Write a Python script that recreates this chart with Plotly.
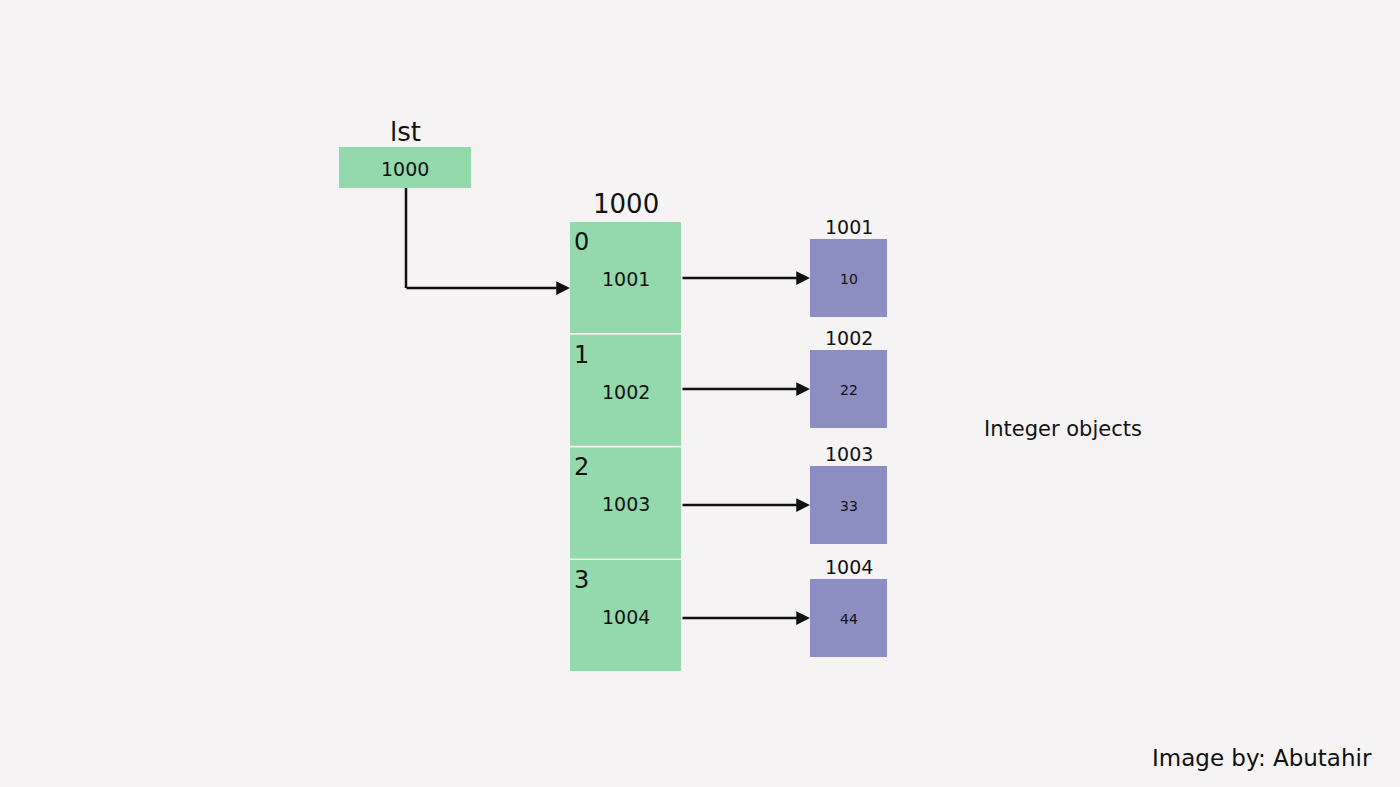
import plotly.graph_objects as go

# --- data ---
var_name = "lst"
var_value = "1000"
list_address = "1000"
cell_index = ["0", "1", "2", "3"]
cell_refs = ["1001", "1002", "1003", "1004"]
int_addresses = ["1001", "1002", "1003", "1004"]
int_values = ["10", "22", "33", "44"]
side_note = "Integer objects"
credit = "Image by: Abutahir"

# --- layout (pixel space, y down) ---
W, H = 1400, 787
BG = "#f5f3f4"
GREEN = "#94d9ab"
PURPLE = "#8c8dc0"
INK = "#111111"
FONT = "DejaVu Sans"

var_box = (339, 471, 147, 188)
cell_x0, cell_x1 = 570, 681
cell_top0, cell_pitch, cell_h = 222, 112.7, 111
int_x0, int_x1 = 810, 887
int_tops = [239, 350, 466, 579]
int_h = 78

fig = go.Figure()
shapes = []
ann = []


def text(x, y, s, size, xanchor="center"):
    ann.append(dict(x=x, y=y, text=s, showarrow=False, xanchor=xanchor,
                    yanchor="middle", font=dict(size=size, color=INK, family=FONT)))


def arrow(x0, y0, x1, y1):
    ann.append(dict(x=x1, y=y1, ax=x0, ay=y0, xref="x", yref="y", axref="x", ayref="y",
                    text="", showarrow=True, arrowhead=2, arrowsize=1.1,
                    arrowwidth=2.5, arrowcolor=INK, standoff=0))


# variable box
x0, x1, y0, y1 = var_box
shapes.append(dict(type="rect", x0=x0, x1=x1, y0=y0, y1=y1, fillcolor=GREEN,
                   line=dict(width=0), layer="below"))
text((x0 + x1) / 2, y0 - 15, var_name, 26)
text((x0 + x1) / 2, (y0 + y1) / 2 + 1, var_value, 19)

# list cells
text((cell_x0 + cell_x1) / 2, cell_top0 - 18, list_address, 26)
for i, (idx, ref) in enumerate(zip(cell_index, cell_refs)):
    top = cell_top0 + i * cell_pitch
    shapes.append(dict(type="rect", x0=cell_x0, x1=cell_x1, y0=top, y1=top + cell_h,
                       fillcolor=GREEN, line=dict(width=0), layer="below"))
    text(cell_x0 + 2, top + 20, idx, 24, xanchor="left")
    text((cell_x0 + cell_x1) / 2, top + 57, ref, 19)

# connector from lst to list
vx = (var_box[0] + var_box[1]) / 2 + 1
conn_y = cell_top0 + 66
shapes.append(dict(type="line", x0=vx, x1=vx, y0=var_box[3], y1=conn_y,
                   line=dict(color=INK, width=2.5)))
arrow(vx - 1, conn_y, cell_x0, conn_y)

# integer objects
for top, addr, val in zip(int_tops, int_addresses, int_values):
    cx = (int_x0 + int_x1) / 2
    cy = top + int_h / 2
    shapes.append(dict(type="rect", x0=int_x0, x1=int_x1, y0=top, y1=top + int_h,
                       fillcolor=PURPLE, line=dict(width=0), layer="below"))
    text(cx, top - 12, addr, 19)
    text(cx, cy + 1, val, 14)
    arrow(cell_x1, cy, int_x0, cy)

text(1063, 429, side_note, 21)
text(1262, 758, credit, 23)

fig.update_layout(
    width=W, height=H, margin=dict(l=0, r=0, t=0, b=0),
    paper_bgcolor=BG, plot_bgcolor=BG, showlegend=False,
    xaxis=dict(range=[0, W], visible=False, fixedrange=True),
    yaxis=dict(range=[H, 0], visible=False, fixedrange=True),
    shapes=shapes, annotations=ann,
)

fig.write_html("out.html", config={"displayModeBar": False},
               post_script="document.body.style.margin='0';"
                           "document.body.style.background='%s';" % BG)
